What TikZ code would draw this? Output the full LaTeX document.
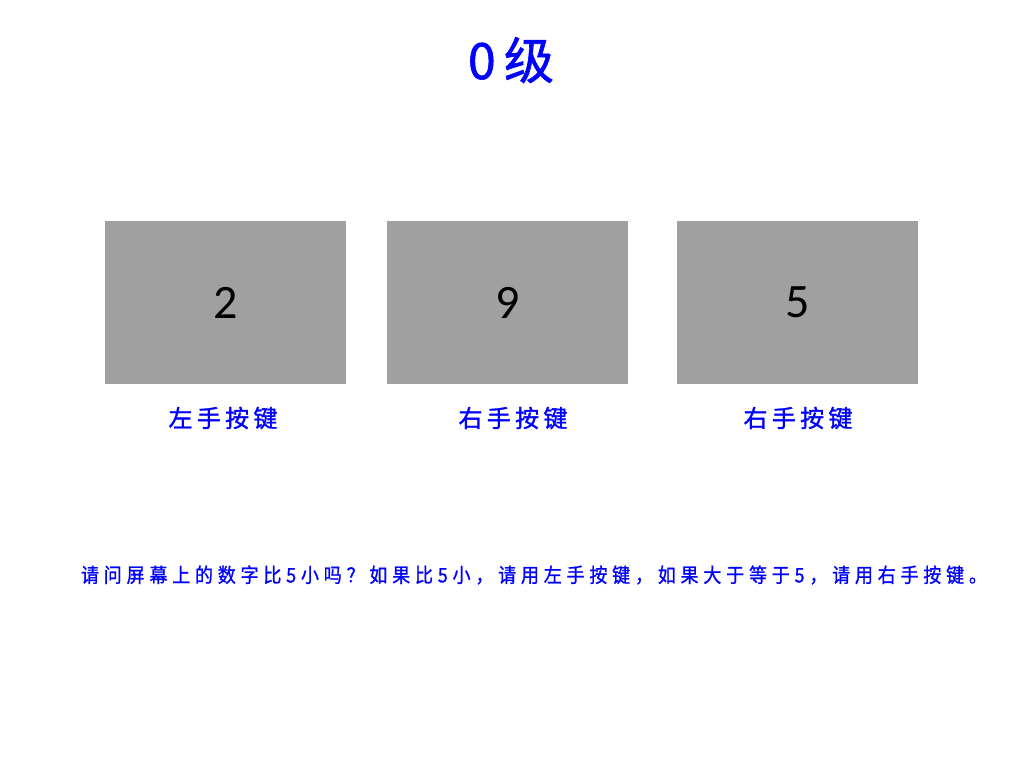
\documentclass[tikz,border=0pt]{standalone}
\usepackage{fontspec}
\setmainfont{Carlito}
\newfontfamily\cjk[FakeBold=1.2]{Noto Sans CJK SC}
\newfontfamily\cjklabel[LetterSpace=18,FakeBold=1.2]{Noto Sans CJK SC}
\newfontfamily\cjknote[LetterSpace=24,FakeBold=1,FakeStretch=0.9]{Noto Sans CJK SC}
\definecolor{keygray}{HTML}{A0A0A0}

\begin{document}
\begin{tikzpicture}[x=1pt,y=-1pt,
    digitbox/.style={fill=keygray,minimum width=241pt,minimum height=163pt,
      inner sep=0pt,font=\fontsize{48}{48}\selectfont},
    keylabel/.style={text=blue,inner sep=0pt,font=\cjklabel\fontsize{24}{24}\selectfont}]
  \useasboundingbox (0,0) rectangle (1024,768);

  % title
  \node[text=blue,font=\cjk\fontsize{50}{50}\selectfont] (title) at (511,60) {0\,级};

  % the three number boxes
  \node[digitbox] (box1) at (225.5,302.5) {2};
  \node[digitbox] (box2) at (507.5,302.5) {9};
  \node[digitbox] (box3) at (797.5,302.5) {5};

  \node[keylabel] (key1) at (223,418) {左手按键};
  \node[keylabel] (key2) at (513,418) {右手按键};
  \node[keylabel] (key3) at (798,418) {右手按键};

  % instruction line
  \node[text=blue,inner sep=0pt,font=\cjknote\fontsize{20}{20}\selectfont] (note) at (534,575)
    {请问屏幕上的数字比5小吗？如果比5小，请用左手按键，如果大于等于5，请用右手按键。};
\end{tikzpicture}
\end{document}
